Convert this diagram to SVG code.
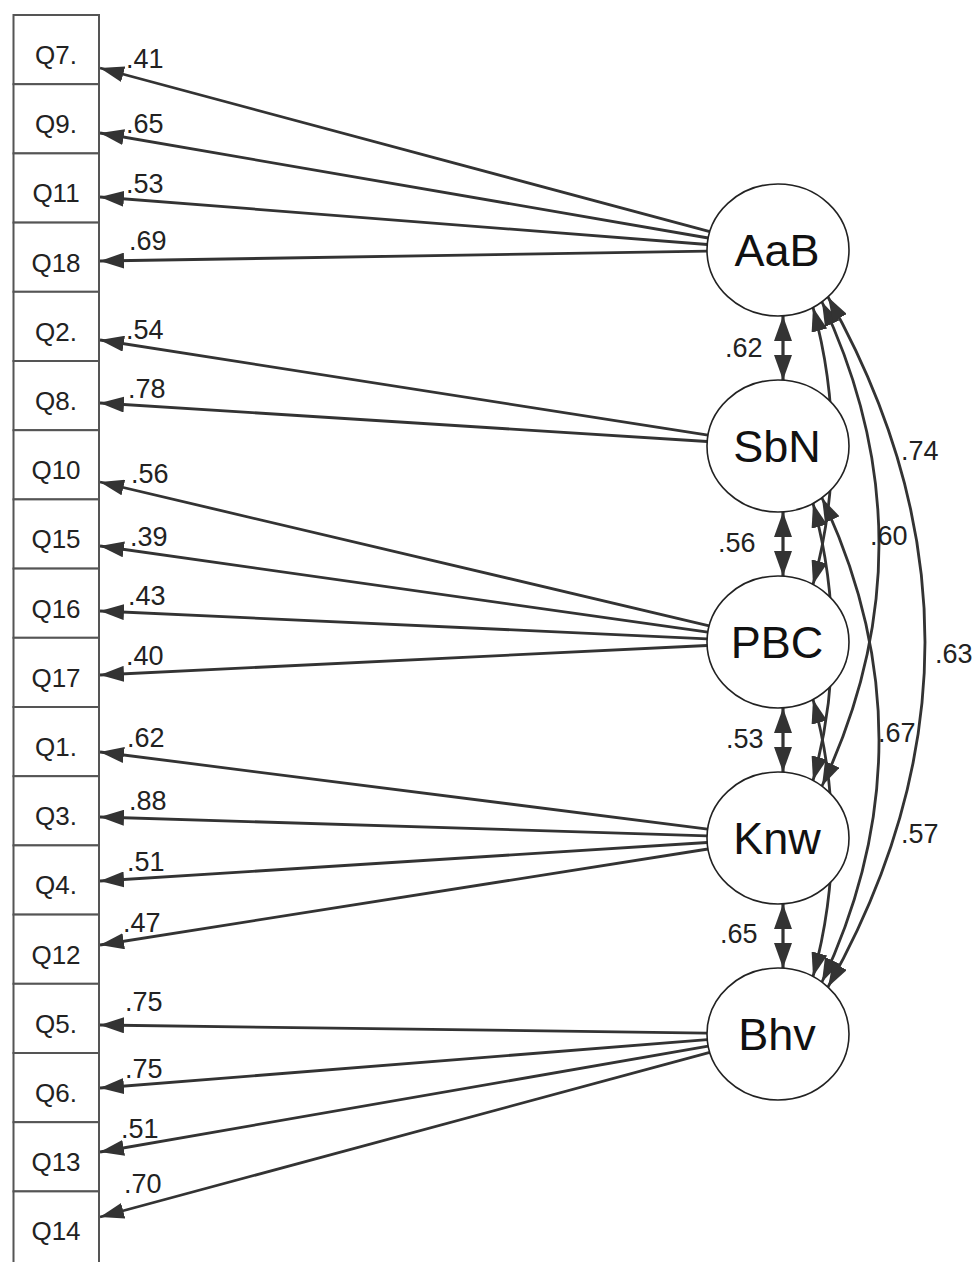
<svg xmlns="http://www.w3.org/2000/svg" width="977" height="1262" viewBox="0 0 977 1262">
<style>
.box{fill:#fff;stroke:#555;stroke-width:2}
.blab{font-family:"Liberation Sans",Arial,sans-serif;font-size:26px;fill:#222;text-anchor:middle}
.lv{fill:#fff;stroke:#222;stroke-width:1.6}
.flab{font-family:"Liberation Sans",Arial,sans-serif;font-size:45px;fill:#111;text-anchor:middle}
.num{font-family:"Liberation Sans",Arial,sans-serif;font-size:27px;fill:#222}
.ld{stroke:#333;stroke-width:2.8;fill:none;marker-end:url(#ah)}
.cv{stroke:#333;stroke-width:2.8;fill:none;marker-start:url(#ah2);marker-end:url(#ah2)}
.vt{stroke:#333;stroke-width:3.2;fill:none;marker-start:url(#ahv);marker-end:url(#ahv)}
</style>
<defs>
<marker id="ah" markerUnits="userSpaceOnUse" markerWidth="24" markerHeight="16" refX="24" refY="8" orient="auto"><path d="M0,0 L24,8 L0,16 z" fill="#333"/></marker>
<marker id="ah2" markerUnits="userSpaceOnUse" markerWidth="24" markerHeight="16" refX="24" refY="8" orient="auto-start-reverse"><path d="M0,0 L24,8 L0,16 z" fill="#333"/></marker>
<marker id="ahv" markerUnits="userSpaceOnUse" markerWidth="25" markerHeight="18" refX="25" refY="9" orient="auto-start-reverse"><path d="M0,0 L25,9 L0,18 z" fill="#333"/></marker>
</defs>

<g id="connectors">
<line class="ld" x1="709.8" y1="231.7" x2="100" y2="68"/>
<line class="ld" x1="708.2" y1="238" x2="100" y2="133"/>
<line class="ld" x1="707.3" y1="244.5" x2="100" y2="197"/>
<line class="ld" x1="707" y1="251.2" x2="100" y2="261"/>
<line class="ld" x1="708" y1="435.1" x2="100" y2="340"/>
<line class="ld" x1="707.2" y1="441.5" x2="100" y2="403"/>
<line class="ld" x1="709.2" y1="625.8" x2="100" y2="482"/>
<line class="ld" x1="707.8" y1="632.1" x2="100" y2="546"/>
<line class="ld" x1="707.1" y1="638.8" x2="100" y2="611"/>
<line class="ld" x1="707.1" y1="645.5" x2="100" y2="675"/>
<line class="ld" x1="707.7" y1="829.1" x2="100" y2="752"/>
<line class="ld" x1="707" y1="835.8" x2="100" y2="817"/>
<line class="ld" x1="707.2" y1="842.5" x2="100" y2="881"/>
<line class="ld" x1="708" y1="849" x2="100" y2="945"/>
<line class="ld" x1="707" y1="1033.1" x2="100" y2="1025"/>
<line class="ld" x1="707.3" y1="1039.6" x2="100" y2="1088"/>
<line class="ld" x1="708.2" y1="1046.1" x2="100" y2="1152"/>
<line class="ld" x1="709.8" y1="1052.4" x2="100" y2="1217"/>
<line class="vt" x1="783" y1="316" x2="783" y2="380"/>
<line class="vt" x1="783" y1="512" x2="783" y2="576"/>
<line class="vt" x1="783" y1="708" x2="783" y2="772"/>
<line class="vt" x1="783" y1="904" x2="783" y2="968"/>
<path class="cv" d="M813,307.4 Q851,446 813,584.6"/>
<path class="cv" d="M813,503.4 Q851,642 813,780.6"/>
<path class="cv" d="M813,699.4 Q851,838 813,976.6"/>
<path class="cv" d="M822,302 Q936,544 822,786"/>
<path class="cv" d="M822,498 Q936,740 822,982"/>
<path class="cv" d="M828,297 Q1022,642 828,987"/>
</g>

<g id="box-Q7"><rect class="box" x="13.5" y="15" width="85.5" height="69.2"/><text class="blab" x="56" y="64">Q7.</text></g>
<g id="box-Q9"><rect class="box" x="13.5" y="84.2" width="85.5" height="69.2"/><text class="blab" x="56" y="133.2">Q9.</text></g>
<g id="box-Q11"><rect class="box" x="13.5" y="153.4" width="85.5" height="69.2"/><text class="blab" x="56" y="202.4">Q11</text></g>
<g id="box-Q18"><rect class="box" x="13.5" y="222.6" width="85.5" height="69.2"/><text class="blab" x="56" y="271.6">Q18</text></g>
<g id="box-Q2"><rect class="box" x="13.5" y="291.8" width="85.5" height="69.2"/><text class="blab" x="56" y="340.8">Q2.</text></g>
<g id="box-Q8"><rect class="box" x="13.5" y="361" width="85.5" height="69.2"/><text class="blab" x="56" y="410">Q8.</text></g>
<g id="box-Q10"><rect class="box" x="13.5" y="430.2" width="85.5" height="69.2"/><text class="blab" x="56" y="479.2">Q10</text></g>
<g id="box-Q15"><rect class="box" x="13.5" y="499.4" width="85.5" height="69.2"/><text class="blab" x="56" y="548.4">Q15</text></g>
<g id="box-Q16"><rect class="box" x="13.5" y="568.6" width="85.5" height="69.2"/><text class="blab" x="56" y="617.6">Q16</text></g>
<g id="box-Q17"><rect class="box" x="13.5" y="637.8" width="85.5" height="69.2"/><text class="blab" x="56" y="686.8">Q17</text></g>
<g id="box-Q1"><rect class="box" x="13.5" y="707" width="85.5" height="69.2"/><text class="blab" x="56" y="756">Q1.</text></g>
<g id="box-Q3"><rect class="box" x="13.5" y="776.2" width="85.5" height="69.2"/><text class="blab" x="56" y="825.2">Q3.</text></g>
<g id="box-Q4"><rect class="box" x="13.5" y="845.4" width="85.5" height="69.2"/><text class="blab" x="56" y="894.4">Q4.</text></g>
<g id="box-Q12"><rect class="box" x="13.5" y="914.6" width="85.5" height="69.2"/><text class="blab" x="56" y="963.6">Q12</text></g>
<g id="box-Q5"><rect class="box" x="13.5" y="983.8" width="85.5" height="69.2"/><text class="blab" x="56" y="1032.8">Q5.</text></g>
<g id="box-Q6"><rect class="box" x="13.5" y="1053" width="85.5" height="69.2"/><text class="blab" x="56" y="1102">Q6.</text></g>
<g id="box-Q13"><rect class="box" x="13.5" y="1122.2" width="85.5" height="69.2"/><text class="blab" x="56" y="1171.2">Q13</text></g>
<g id="box-Q14"><rect class="box" x="13.5" y="1191.4" width="85.5" height="85"/><text class="blab" x="56" y="1240.4">Q14</text></g>

<g id="node-AaB"><ellipse class="lv" cx="778" cy="250" rx="71" ry="66"/><text class="flab" x="777" y="266">AaB</text></g>
<g id="node-SbN"><ellipse class="lv" cx="778" cy="446" rx="71" ry="66"/><text class="flab" x="777" y="462">SbN</text></g>
<g id="node-PBC"><ellipse class="lv" cx="778" cy="642" rx="71" ry="66"/><text class="flab" x="777" y="658">PBC</text></g>
<g id="node-Knw"><ellipse class="lv" cx="778" cy="838" rx="71" ry="66"/><text class="flab" x="777" y="854">Knw</text></g>
<g id="node-Bhv"><ellipse class="lv" cx="778" cy="1034" rx="71" ry="66"/><text class="flab" x="777" y="1050">Bhv</text></g>

<g id="labels">
<text class="num" x="126" y="68">.41</text>
<text class="num" x="126" y="133">.65</text>
<text class="num" x="126" y="193">.53</text>
<text class="num" x="129" y="250">.69</text>
<text class="num" x="126" y="339">.54</text>
<text class="num" x="128" y="398">.78</text>
<text class="num" x="131" y="483">.56</text>
<text class="num" x="130" y="546">.39</text>
<text class="num" x="128" y="605">.43</text>
<text class="num" x="126" y="665">.40</text>
<text class="num" x="127" y="747">.62</text>
<text class="num" x="129" y="810">.88</text>
<text class="num" x="127" y="871">.51</text>
<text class="num" x="123" y="932">.47</text>
<text class="num" x="125" y="1011">.75</text>
<text class="num" x="125" y="1078">.75</text>
<text class="num" x="121" y="1138">.51</text>
<text class="num" x="124" y="1193">.70</text>
<text class="num" x="725" y="357">.62</text>
<text class="num" x="718" y="552">.56</text>
<text class="num" x="726" y="748">.53</text>
<text class="num" x="720" y="943">.65</text>
<text class="num" x="901" y="460">.74</text>
<text class="num" x="870" y="545">.60</text>
<text class="num" x="935" y="663">.63</text>
<text class="num" x="878" y="742">.67</text>
<text class="num" x="901" y="843">.57</text>
</g>
</svg>
